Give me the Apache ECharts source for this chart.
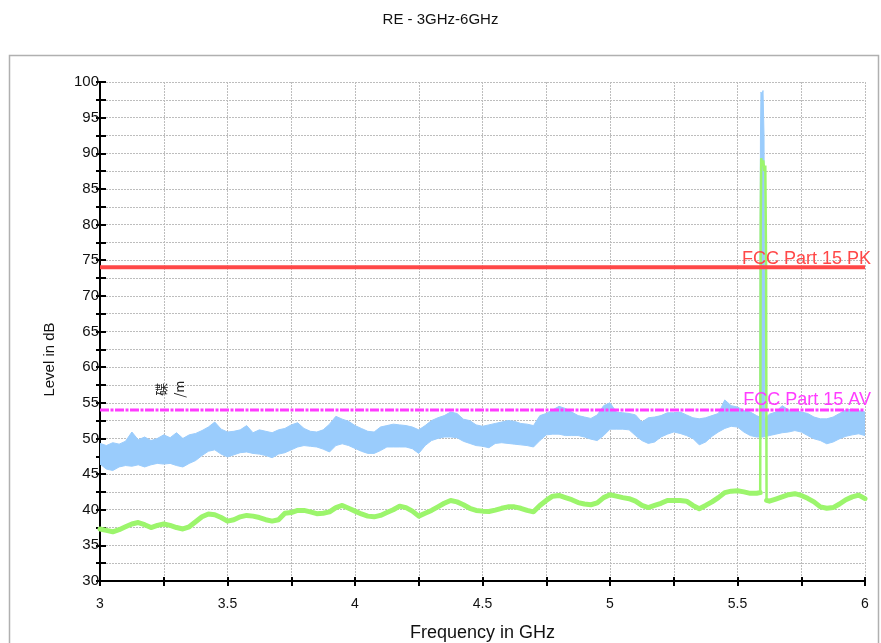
<!DOCTYPE html>
<html>
<head>
<meta charset="utf-8">
<title>RE - 3GHz-6GHz</title>
<script src="https://cdn.jsdelivr.net/npm/echarts@6/dist/echarts.min.js"></script>
<style>
  html, body { margin: 0; padding: 0; background: #ffffff; }
  #chart { width: 881px; height: 643px; }
</style>
</head>
<body>
<div id="chart"></div>
<script>
// Sweep grid: 3.000 GHz to 6.000 GHz in 25 MHz bins
const FREQ_START = 3.0;
const FREQ_STEP = 0.025;

// Peak detector trace: upper and lower edges of the noise band per bin (dB)
const peakHigh = [
  49.3, 49.0, 49.4, 49.2, 49.6, 50.9, 49.8, 50.2, 49.7, 50.0,
  50.5, 50.1, 50.8, 50.0, 50.5, 50.7, 51.1, 51.6, 52.3, 51.3,
  50.9, 51.0, 51.2, 51.8, 50.8, 51.2, 51.0, 50.8, 51.2, 51.4,
  51.9, 52.2, 51.4, 51.0, 50.9, 51.2, 52.0, 53.1, 52.7, 52.4,
  51.8, 51.4, 51.0, 50.9, 51.6, 51.8, 52.0, 51.9, 51.8, 51.6,
  51.2, 51.8, 52.5, 52.9, 53.2, 53.7, 53.5, 52.7, 52.5, 51.9,
  51.7, 51.9, 52.1, 52.3, 52.5, 52.4, 52.1, 52.0, 51.8, 53.2,
  53.5, 54.0, 54.5, 54.2, 53.7, 53.2, 53.0, 52.8, 53.3, 54.6,
  55.0, 53.7, 53.6, 53.5, 53.3, 52.3, 52.9, 53.0, 53.2, 53.6,
  53.6, 53.7, 53.3, 52.9, 52.75, 52.9, 53.2, 53.5, 55.4, 54.6,
  54.4, 53.9, 53.7, 53.2, null, 53.4, 53.7, 54.6, 54.0, 53.9,
  53.7, 53.5, 53.0, 52.75, 52.75, 53.0, 53.5, 54.0, 54.1, 53.9,
  53.7
];
const peakLow = [
  46.4, 45.7, 45.5, 46.0, 46.2, 46.1, 46.3, 46.0, 46.3, 46.5,
  46.4, 46.5, 46.2, 46.0, 46.5, 46.9, 47.6, 48.2, 48.4, 47.8,
  47.4, 47.7, 48.0, 48.1, 47.9, 47.8, 47.6, 47.3, 47.8, 48.0,
  48.4, 48.8, 49.0, 48.9, 48.8, 48.5, 48.1, 49.0, 49.25, 49.0,
  48.6, 48.2, 47.9, 47.9, 48.3, 48.8, 48.8, 48.8, 48.8, 48.55,
  47.9, 49.0, 49.7, 50.0, 50.2, 50.2, 50.1, 49.6, 49.3, 49.0,
  48.9, 48.7, 49.3, 49.4, 49.3, 49.2, 49.1, 49.0, 48.8, 49.7,
  50.5, 50.6, 50.6, 50.4, 50.4, 50.4, 50.2, 49.9, 49.7, 50.4,
  51.3, 51.3, 51.3, 51.2, 50.4, 49.7, 49.3, 49.5, 50.2, 50.6,
  50.9, 50.7, 50.4, 50.0, 49.1, 49.5, 50.3, 50.9, 51.4, 51.7,
  51.6, 50.9, 50.4, 50.2, 50.2, 50.4, 50.6, 50.8, 50.9, 51.1,
  50.9, 50.4, 49.95, 49.7, 49.25, 49.5, 49.95, 50.3, 50.5, 50.65,
  50.4
];

// Average detector trace per bin (dB); the 5.6 GHz bin is carried by the carrier arrays
const average = [
  37.3, 37.1, 36.9, 37.2, 37.6, 38.0, 38.2, 37.9, 37.5, 37.8,
  38.0, 37.8, 37.5, 37.3, 37.6, 38.3, 39.0, 39.4, 39.3, 38.9,
  38.4, 38.6, 39.0, 39.2, 39.1, 38.9, 38.6, 38.4, 38.6, 39.5,
  39.6, 39.9, 39.9, 39.7, 39.45, 39.5, 39.7, 40.3, 40.6, 40.2,
  39.8, 39.4, 39.1, 39.0, 39.2, 39.6, 40.0, 40.5, 40.3, 39.8,
  39.1, 39.5, 39.9, 40.4, 40.9, 41.3, 41.1, 40.7, 40.2, 39.9,
  39.8, 39.75, 39.95, 40.2, 40.4, 40.4, 40.2, 39.9, 39.7, 40.6,
  41.3, 41.9, 42.0, 41.7, 41.4, 41.0, 40.8, 40.7, 40.95, 41.7,
  42.1, 41.9, 41.7, 41.55, 41.2, 40.6, 40.3, 40.6, 40.9, 41.3,
  41.3, 41.3, 41.2, 40.6, 40.15, 40.6, 41.1, 41.7, 42.4, 42.6,
  42.65, 42.5, 42.3, 42.3, null, 41.2, 41.5, 41.8, 42.1, 42.25,
  42.0, 41.6, 41.1, 40.4, 40.2, 40.3, 40.8, 41.4, 41.8, 42.05,
  41.55
];

// Carrier near 5.6 GHz
const carrierFreqPk = [5.587, 5.590, 5.592, 5.596, 5.600, 5.604, 5.607];
const carrierPk = [53.0, 92.0, 98.6, 98.2, 98.8, 92.5, 52.8];
const carrierFreqAv = [5.589, 5.591, 5.593, 5.597, 5.601, 5.605, 5.609, 5.612, 5.614];
const carrierAv = [42.4, 80.0, 89.3, 88.2, 89.0, 87.5, 88.3, 75.0, 41.3];

// Limits
const limitPK = 74;
const limitAV = 54;
const limitNames = ['FCC Part 15 PK', 'FCC Part 15 AV'];

// Axis ranges
const xRange = [3, 6];
const yRange = [30, 100];

const FONT = '"Liberation Sans", Arial, Helvetica, sans-serif';

function binFreq(i) { return +(FREQ_START + i * FREQ_STEP).toFixed(4); }

// Upper edge of the peak band including the carrier, lower edge as swept
const bandTop = [];
peakHigh.forEach((v, i) => { if (v !== null) bandTop.push([binFreq(i), v]); });
carrierFreqPk.forEach((f, i) => bandTop.push([f, carrierPk[i]]));
bandTop.sort((a, b) => a[0] - b[0]);
const bandBottom = peakLow.map((v, i) => [binFreq(i), v]);

// Average trace, broken where the carrier series takes over
const avgLine = [];
average.forEach((v, i) => {
  const f = binFreq(i);
  if (v === null) {
    avgLine.push([carrierFreqAv[0], carrierAv[0]]);
    avgLine.push([f, '-']);
    avgLine.push([carrierFreqAv[carrierFreqAv.length - 1], carrierAv[carrierAv.length - 1]]);
  } else {
    avgLine.push([f, v]);
  }
});
const avgCarrier = carrierFreqAv.map((f, i) => [f, carrierAv[i]]);

const chart = echarts.init(document.getElementById('chart'), null, { renderer: 'canvas' });

const gridLine = { show: true, lineStyle: { color: '#bdbdbd', width: 1, type: [2, 1] } };
const axisBlack = { show: true, lineStyle: { color: '#000', width: 2 } };

const option = {
  animation: false,
  backgroundColor: '#ffffff',
  title: {
    text: 'RE - 3GHz-6GHz',
    left: 'center',
    top: 7,
    textStyle: { fontFamily: FONT, fontSize: 15, fontWeight: 'normal', color: '#111' }
  },
  grid: { left: 100, right: 16, top: 82, bottom: 62, containLabel: false, outerBoundsMode: 'none' },
  xAxis: [
    {
      type: 'value', min: xRange[0], max: xRange[1], interval: 0.25, position: 'bottom',
      name: 'Frequency in GHz', nameLocation: 'middle', nameGap: 43,
      nameTextStyle: { fontFamily: FONT, fontSize: 18, color: '#111' },
      axisLine: axisBlack,
      axisTick: { show: true, inside: false, length: 5, lineStyle: { color: '#000', width: 2 } },
      axisLabel: {
        margin: 16, fontFamily: FONT, fontSize: 14, color: '#111',
        formatter: v => (Math.abs(v * 2 - Math.round(v * 2)) < 1e-6 ? String(+v.toFixed(2)) : '')
      },
      splitLine: gridLine
    },
    {
      type: 'value', min: xRange[0], max: xRange[1], interval: 0.25, position: 'bottom', offset: 0,
      axisLine: { show: false },
      axisTick: { show: true, inside: true, length: 4, lineStyle: { color: '#000', width: 2 } },
      axisLabel: { show: false },
      splitLine: { show: false }
    }
  ],
  yAxis: [
    {
      type: 'value', min: yRange[0], max: yRange[1], interval: 2.5, position: 'left',
      axisLine: axisBlack,
      axisTick: { show: true, inside: false, length: 4, lineStyle: { color: '#000', width: 2 } },
      axisLabel: {
        margin: 1, fontFamily: FONT, fontSize: 15, color: '#111', padding: [4, 0, 0, 0],
        formatter: v => (v % 5 === 0 ? String(v) : '')
      },
      splitLine: gridLine
    },
    {
      type: 'value', min: yRange[0], max: yRange[1], interval: 2.5, position: 'left', offset: 0,
      axisLine: { show: false },
      axisTick: { show: true, inside: true, length: 6, lineStyle: { color: '#000', width: 2 } },
      axisLabel: { show: false },
      splitLine: { show: false }
    }
  ],
  series: [
    {
      name: 'Peak band',
      type: 'custom',
      xAxisIndex: 0, yAxisIndex: 0,
      clip: true,
      z: 2,
      encode: { x: 0, y: 1 },
      data: [[xRange[0], yRange[0]]],
      renderItem: function (params, api) {
        const pts = bandTop.map(p => api.coord(p))
          .concat(bandBottom.slice().reverse().map(p => api.coord(p)));
        return {
          type: 'polygon',
          shape: { points: pts },
          style: { fill: '#9accfc', stroke: '#9accfc', lineWidth: 1 }
        };
      }
    },
    {
      name: 'Average',
      type: 'line',
      xAxisIndex: 0, yAxisIndex: 0,
      data: avgLine,
      showSymbol: false,
      connectNulls: false,
      z: 3,
      lineStyle: { color: '#9cf56c', width: 5, join: 'round', cap: 'round' }
    },
    {
      name: 'Average carrier',
      type: 'line',
      xAxisIndex: 0, yAxisIndex: 0,
      data: avgCarrier,
      showSymbol: false,
      z: 3,
      lineStyle: { color: '#9cf56c', width: 2.5 }
    },
    {
      name: limitNames[0],
      type: 'line',
      xAxisIndex: 0, yAxisIndex: 0,
      data: [[xRange[0], limitPK], [xRange[1], limitPK]],
      showSymbol: false,
      z: 4,
      lineStyle: { color: '#ff4848', width: 4 }
    },
    {
      name: limitNames[1],
      type: 'line',
      xAxisIndex: 0, yAxisIndex: 0,
      data: [[xRange[0], limitAV], [xRange[1], limitAV]],
      showSymbol: false,
      z: 4,
      lineStyle: { color: '#ff3cff', width: 3, type: [9, 1.5, 3, 1.5] }
    }
  ]
};

chart.setOption(option);

// Annotations anchored through the chart's own coordinate system
const pkPos = chart.convertToPixel({ gridIndex: 0 }, [xRange[1], limitPK]);
const avPos = chart.convertToPixel({ gridIndex: 0 }, [xRange[1], limitAV]);
const unitPos = chart.convertToPixel({ gridIndex: 0 }, [3.275, 56.9]);
const plotTop = chart.convertToPixel({ gridIndex: 0 }, [xRange[0], yRange[1]]);
const plotBottom = chart.convertToPixel({ gridIndex: 0 }, [xRange[0], yRange[0]]);

chart.setOption({
  graphic: [
    {
      type: 'rect', silent: true, z: -1,
      shape: { x: 9.5, y: 55.5, width: 869, height: 640 },
      style: { fill: 'none', stroke: '#b0b0b0', lineWidth: 1.5 }
    },
    {
      type: 'text', silent: true, z: 10,
      x: 50, y: (plotTop[1] + plotBottom[1]) / 2 + 28,
      rotation: Math.PI / 2,
      style: { text: 'Level in dB', font: '15px ' + FONT, fill: '#111', align: 'center', verticalAlign: 'middle' }
    },
    {
      type: 'text', silent: true, z: 10,
      x: pkPos[0] + 6, y: pkPos[1] + 1,
      style: { text: limitNames[0], font: '18px ' + FONT, fill: '#ff4848', align: 'right', verticalAlign: 'bottom' }
    },
    {
      type: 'text', silent: true, z: 10,
      x: avPos[0] + 6, y: avPos[1] - 1,
      style: { text: limitNames[1], font: '18px ' + FONT, fill: '#ff3cff', align: 'right', verticalAlign: 'bottom' }
    },
    {
      type: 'text', silent: true, z: 10,
      x: unitPos[0], y: unitPos[1],
      rotation: Math.PI / 2,
      style: { text: '碟\n/m', font: '13px "Noto Sans CJK SC", ' + FONT, lineHeight: 18, fill: '#222', align: 'center', verticalAlign: 'middle' }
    }
  ]
});
</script>
</body>
</html>
